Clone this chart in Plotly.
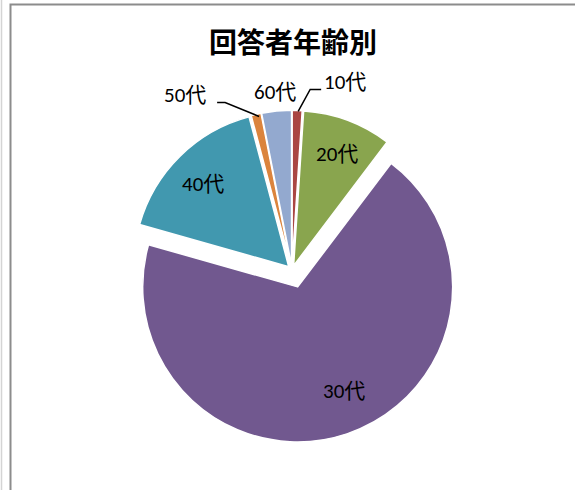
import math
import plotly.graph_objects as go

# ---- data ----
labels = ["10代", "20代", "30代", "40代", "50代", "60代"]
counts = [1, 9, 67, 16, 1, 3]
colors = ["#AA4643", "#89A54E", "#71588F", "#4198AF", "#DB843D", "#93A9CF"]
pulls = [0.03, 0.03, 0.115, 0.03, 0.03, 0.03]
title_text = "回答者年齢別"
inside_labels = ["20代", "30代", "40代"]

# ---- layout geometry (pixels) ----
W, H = 575, 490
CX, CY, R = 292, 270, 155
FONT = "Calibri, Carlito, 'Noto Sans CJK JP', sans-serif"
LABEL_SIZE = 21
# per-label nudges (pixels) for inside labels
label_nudge = {"20代": (2, -1), "30代": (9, -8), "40代": (-3, 1)}

maxpull = max(pulls)
half = R * (1 + maxpull)
dom_x = [(CX - half) / W, (CX + half) / W]
dom_y = [1 - (CY + half) / H, 1 - (CY - half) / H]

def px(x):
    return x / W

def py(y):
    return 1 - y / H

fig = go.Figure(go.Pie(
    labels=labels, values=counts, sort=False, direction="clockwise",
    rotation=0, pull=pulls,
    marker=dict(colors=colors, line=dict(color="white", width=1.5)),
    textinfo="none",
    domain=dict(x=dom_x, y=dom_y),
    hoverinfo="label+value+percent", showlegend=False,
))

# angles (clockwise from north) of slice midpoints computed from the data
total = sum(counts)
mid = []
acc = 0
for v in counts:
    mid.append((acc + v / 2) / total * 2 * math.pi)
    acc += v

def polar(i, frac):
    """point along slice bisector at frac*R from the (pulled) slice apex"""
    ox = CX + R * pulls[i] * math.sin(mid[i])
    oy = CY - R * pulls[i] * math.cos(mid[i])
    return ox + frac * R * math.sin(mid[i]), oy - frac * R * math.cos(mid[i])

def edge(i):
    return polar(i, 1.0)

shapes = []
annotations = []
lab_font = dict(family=FONT, size=LABEL_SIZE, color="black")

# inside labels
for lab in inside_labels:
    i = labels.index(lab)
    x, y = polar(i, 0.76)
    dx, dy = label_nudge[lab]
    annotations.append(dict(x=px(x + dx), y=py(y + dy), xref="paper", yref="paper", text=lab,
                            showarrow=False, xanchor="center", yanchor="middle", font=lab_font,
                            borderpad=0))

# 10代 leader line + label
i = labels.index("10代")
x0, y0 = edge(i)
x0, y0 = x0 + 1, y0 + 1
e1 = (x0 + 12, y0 - 22)
e2 = (e1[0] + 11, e1[1])
shapes.append(dict(type="path", xref="paper", yref="paper",
                   path=f"M {px(x0)},{py(y0)} L {px(e1[0])},{py(e1[1])} L {px(e2[0])},{py(e2[1])}",
                   line=dict(color="black", width=1.5)))
annotations.append(dict(x=px(e2[0] + 2), y=py(e1[1] - 7), xref="paper", yref="paper",
                        text="10代", showarrow=False, xanchor="left", yanchor="middle",
                        font=lab_font, borderpad=0))

# 50代 leader line + label
i = labels.index("50代")
x0, y0 = edge(i)
x0, y0 = x0 + 3, y0 + 2
e1 = (x0 - 34, y0 - 14)
e2 = (e1[0] - 8, e1[1])
shapes.append(dict(type="path", xref="paper", yref="paper",
                   path=f"M {px(x0)},{py(y0)} L {px(e1[0])},{py(e1[1])} L {px(e2[0])},{py(e2[1])}",
                   line=dict(color="black", width=1.5)))
annotations.append(dict(x=px(e2[0] - 10), y=py(e1[1] - 7), xref="paper", yref="paper",
                        text="50代", showarrow=False, xanchor="right", yanchor="middle",
                        font=lab_font, borderpad=0))

# 60代 label (no leader line)
i = labels.index("60代")
x0, y0 = edge(i)
annotations.append(dict(x=px(x0 - 2), y=py(y0 - 19), xref="paper", yref="paper",
                        text="60代", showarrow=False, xanchor="center", yanchor="middle",
                        font=lab_font, borderpad=0))

# title
annotations.append(dict(x=px(293), y=py(41), xref="paper", yref="paper",
                        text=f"<b>{title_text}</b>", showarrow=False,
                        xanchor="center", yanchor="middle",
                        font=dict(family="'Noto Sans CJK JP', sans-serif", size=28, color="black")))

# chart frame
shapes.append(dict(type="line", xref="paper", yref="paper", x0=px(1.5), x1=px(1.5), y0=0, y1=1,
                   line=dict(color="#D4D4D4", width=1.5)))
shapes.append(dict(type="path", xref="paper", yref="paper",
                   path=f"M {px(10.5)},{py(H + 5)} L {px(10.5)},{py(4.5)} L {px(W + 5)},{py(4.5)}",
                   line=dict(color="#8C8C8C", width=2)))

fig.update_layout(
    width=W, height=H,
    margin=dict(l=0, r=0, t=0, b=0),
    paper_bgcolor="white", plot_bgcolor="white",
    shapes=shapes, annotations=annotations,
)

fig.write_html("out.html", config={"displayModeBar": False},
               post_script="document.body.style.margin='0';document.body.style.overflow='hidden';")
